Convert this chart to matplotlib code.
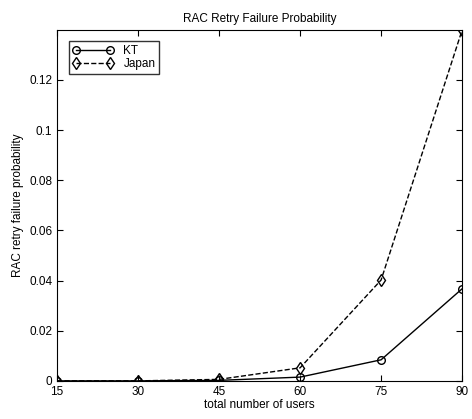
import matplotlib
matplotlib.use('Agg')
import matplotlib.pyplot as plt

plt.rcParams['font.family'] = ['Liberation Sans', 'DejaVu Sans']

users = [15, 30, 45, 60, 75, 90]
kt = [0.0, 0.0, 0.0002, 0.0015, 0.0084, 0.0367]
japan = [0.0, 0.0, 0.0006, 0.0052, 0.0402, 0.1398]

fig = plt.figure(figsize=(4.72, 4.19), dpi=100)
ax = fig.add_axes([0.121, 0.091, 0.858, 0.837])

ax.plot(users, kt, 'k-', marker='o', mfc='none', ms=5.5, lw=1, label='KT')
ax.plot(users, japan, 'k--', marker='d', mfc='none', ms=6, lw=1, label='Japan')

ax.set_xlim(15, 90)
ax.set_ylim(0, max(japan))
ax.set_xticks(users)
ax.set_yticks([0, 0.02, 0.04, 0.06, 0.08, 0.1, 0.12])
ax.set_yticklabels(['0', '0.02', '0.04', '0.06', '0.08', '0.1', '0.12'])
ax.tick_params(direction='in', labelsize=8.5, length=4)
ax.tick_params(top=True, right=True)

ax.set_title('RAC Retry Failure Probability', fontsize=8.5)
ax.set_xlabel('total number of users', fontsize=8.5, labelpad=1)
ax.set_ylabel('RAC retry failure probability', fontsize=8.5)

leg = ax.legend(loc='upper left', fontsize=8.5, fancybox=False, edgecolor='k',
                numpoints=2, handlelength=3.5, borderpad=0.3, labelspacing=0.1,
                bbox_to_anchor=(0.015, 0.985))
leg.get_frame().set_linewidth(1)

fig.savefig('out.png', dpi=100)
